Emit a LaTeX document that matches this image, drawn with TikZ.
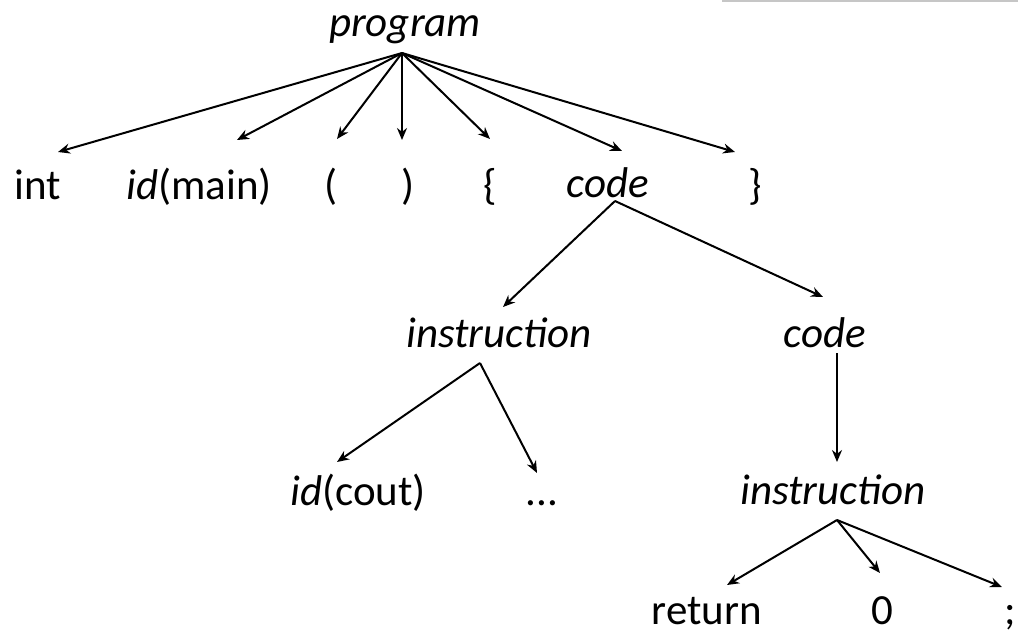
\documentclass[tikz,border=0pt]{standalone}
\usepackage{fontspec}
\setmainfont{Carlito}
\usetikzlibrary{arrows.meta}
\tikzset{
  sym/.style={anchor=base, inner sep=0pt, font=\fontsize{43}{50}\selectfont},
  nt/.style={sym, font=\fontsize{43}{50}\selectfont\itshape},
  edge/.style={line width=2pt, -{Stealth[length=12pt,width=10pt]}},
}
\begin{document}
\begin{tikzpicture}[x=1pt, y=-1pt]
  \useasboundingbox (0,0) rectangle (1018,635);
  % thin rule along the top edge
  \draw[line width=1.5pt, gray!45] (722,0.8) -- (1018,0.8);

  % nodes
  \node[nt]  (program) at (405,36)  {program};
  \node[sym] (int)     at (38,199)  {int};
  \node[sym] (idmain)  at (199,199) {\textit{id}(main)};
  \node[sym] (lpar)    at (331,199) {(};
  \node[sym] (rpar)    at (408,199) {)};
  \node[sym] (lbrace)  at (490,199) {\{};
  \node[nt]  (codeA)   at (608,197) {code};
  \node[sym] (rbrace)  at (755,199) {\}};
  \node[nt]  (instrA)  at (499,347) {instruction};
  \node[nt]  (codeB)   at (825,347) {code};
  \node[sym] (idcout)  at (358,505) {\textit{id}(cout)};
  \node[sym] (dots)    at (542,505) {...};
  \node[nt]  (instrB)  at (833,504) {instruction};
  \node[sym] (ret)     at (707,624) {return};
  \node[sym] (zero)    at (882,624) {0};
  \node[sym] (semi)    at (1010,624) {;};

  % branching points and arrow ends
  \coordinate (pA) at (402,53);
  \coordinate (cA) at (615,201);
  \coordinate (iA) at (480,363);
  \coordinate (cB) at (837,353);
  \coordinate (iB) at (837,520);

  \coordinate (int-in)    at (58,152);
  \coordinate (idmain-in) at (237,140);
  \coordinate (lpar-in)   at (337,139);
  \coordinate (rpar-in)   at (402,140);
  \coordinate (lbrace-in) at (490,139);
  \coordinate (codeA-in)  at (622,151);
  \coordinate (rbrace-in) at (735,152);
  \coordinate (instrA-in) at (503,307);
  \coordinate (codeB-in)  at (823,297);
  \coordinate (idcout-in) at (337,462);
  \coordinate (dots-in)   at (537,473);
  \coordinate (instrB-in) at (837,462);
  \coordinate (ret-in)    at (727,585);
  \coordinate (zero-in)   at (880,573);
  \coordinate (semi-in)   at (1002,587);

  % edges
  \foreach \t in {int,idmain,lpar,rpar,lbrace,codeA,rbrace}
    \draw[edge] (pA) -- (\t-in);
  \foreach \t in {instrA,codeB}
    \draw[edge] (cA) -- (\t-in);
  \foreach \t in {idcout,dots}
    \draw[edge] (iA) -- (\t-in);
  \draw[edge] (cB) -- (instrB-in);
  \foreach \t in {ret,zero,semi}
    \draw[edge] (iB) -- (\t-in);
\end{tikzpicture}
\end{document}
